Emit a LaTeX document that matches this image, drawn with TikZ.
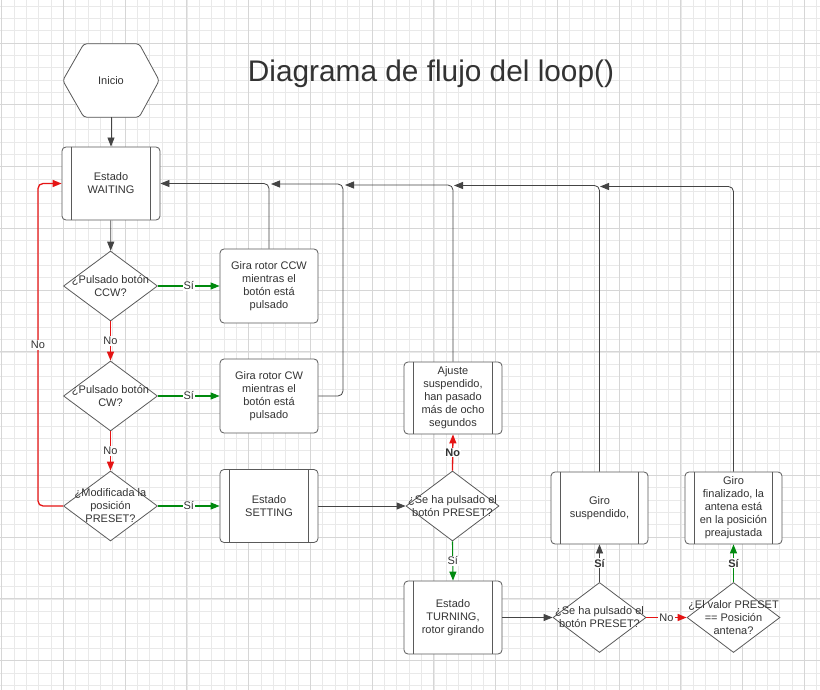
\documentclass[tikz,border=0pt]{standalone}
\usepackage{fontspec}
\setmainfont{Liberation Sans}
\usetikzlibrary{arrows.meta,shapes.geometric,calc}
\definecolor{ink}{HTML}{333333}
\definecolor{edgec}{HTML}{5A5A5A}
\definecolor{linec}{HTML}{444444}
\definecolor{gmin}{HTML}{E9E9E9}
\definecolor{gmaj}{HTML}{D6D6D6}
\definecolor{okg}{HTML}{008A0E}
\definecolor{nor}{HTML}{E51414}
\begin{document}
\begin{tikzpicture}[x=1pt,y=-1pt,
  txt/.style={text=ink,font=\fontsize{11}{13}\selectfont,align=center,inner sep=0pt},
  lab/.style={txt,fill=white,inner sep=1pt},
  labb/.style={lab,font=\fontsize{11}{13}\selectfont\bfseries},
  box/.style={txt,draw=edgec,line width=0.8pt,rounded corners=4pt,fill=white,minimum width=98pt,minimum height=73pt},
  dia/.style={draw=edgec,line width=0.8pt,diamond,fill=white,minimum width=94pt,minimum height=70pt,inner sep=0pt},
  side/.style={draw=edgec,line width=0.8pt},
  darr/.style={draw=linec,line width=0.8pt,-{Triangle[length=9pt,width=7pt]}},
  garr/.style={draw=okg,line width=1.1pt,-{Triangle[length=9pt,width=7pt]}},
  rarr/.style={draw=nor,line width=1.3pt,-{Triangle[length=9pt,width=7pt]}},
  gridmin/.style={draw=gmin,line width=0.5pt},
  gridmaj/.style={draw=gmaj,line width=0.6pt}
]
\useasboundingbox (0,0) rectangle (820,690);
\fill[white] (0,0) rectangle (820,690);
% background grid
\foreach \i in {0,...,66} {\draw[gridmin] ({1.5+\i*12.35},0) -- ({1.5+\i*12.35},690);}
\foreach \i in {0,...,56} {\draw[gridmin] (0,{5.95+\i*12.35}) -- (820,{5.95+\i*12.35});}
\foreach \i in {0,...,13} {\draw[gridmaj] ({1.5+\i*61.75},0) -- ({1.5+\i*61.75},690);}
\foreach \i in {1,...,12} {\draw[gridmaj] (0,{-18.75+\i*61.75}) -- (820,{-18.75+\i*61.75});}

% title
\node[anchor=base,text=ink,font=\fontsize{29.8}{36}\selectfont,inner sep=0pt] (title) at (431,82) {Diagrama de flujo del loop()};

% start
\node[txt,minimum width=96pt,minimum height=73pt] (ini) at (111,80.5) {};
\draw[side,fill=white,rounded corners=3pt] (ini.west) -- ($(ini.north west)+(21,0)$) -- ($(ini.north east)+(-20,0)$) -- (ini.east) -- ($(ini.south east)+(-20,0)$) -- ($(ini.south west)+(21,0)$) -- cycle;
\node[txt] (init) at (ini) {Inicio};

% left column
\node[box] (wait) at (111,183.5) {Estado\\WAITING};
\node[dia] (d1) at (110.5,286) {};
\node[txt] (d1t) at (d1) {¿Pulsado botón\\CCW?};
\node[dia] (d2) at (110.5,396) {};
\node[txt] (d2t) at (d2) {¿Pulsado botón\\CW?};
\node[dia] (d3) at (110.5,506) {};
\node[txt] (d3t) at (d3) {¿Modificada la\\posición\\PRESET?};

% second column
\node[box,minimum height=74pt] (ccw) at (269,286) {Gira rotor CCW\\mientras el\\botón está\\pulsado};
\node[box,minimum height=74pt] (cw) at (269,396) {Gira rotor CW\\mientras el\\botón está\\pulsado};
\node[box] (set) at (269,506) {Estado\\SETTING};

% third column
\node[box,minimum height=72pt] (aj) at (453,398) {Ajuste\\suspendido,\\han pasado\\más de ocho\\segundos};
\node[dia,minimum width=93pt] (d4) at (452.5,506) {};
\node[txt] (d4t) at (d4) {¿Se ha pulsado el\\botón PRESET?};
\node[box] (turn) at (453,617.5) {Estado\\TURNING,\\rotor girando};

% fourth column
\node[box,minimum width=97pt,minimum height=72pt] (gs) at (599.5,508) {Giro\\suspendido,};
\node[dia,minimum width=93pt] (d5) at (599.5,617.5) {};
\node[txt] (d5t) at (d5) {¿Se ha pulsado el\\botón PRESET?};

% fifth column
\node[box,minimum width=97pt,minimum height=72pt] (gf) at (733.5,508) {Giro\\finalizado, la\\antena está\\en la posición\\preajustada};
\node[dia,minimum width=93pt] (d6) at (733.5,617.5) {};
\node[txt] (d6t) at (d6) {¿El valor PRESET\\== Posición\\antena?};

% process-box side lines
\foreach \n in {wait,set,aj,turn,gs,gf} {
  \draw[side] ([xshift=10pt]\n.north west) -- ([xshift=10pt]\n.south west);
  \draw[side] ([xshift=-10pt]\n.north east) -- ([xshift=-10pt]\n.south east);
}

% coordinates for merging return lines
\coordinate (c0) at (38,183.5);
\coordinate (c1) at (343,184);
\coordinate (m1) at (271,184);
\coordinate (m2) at (345,185);
\coordinate (m3) at (454,185.5);
\coordinate (m4) at (600,186.5);

% connectors
\draw[darr] (ini) -- (wait);
\draw[darr] (wait) -- (d1);
\draw[garr] (d1.east) -- node[lab] (s1) {Sí} (ccw.west);
\draw[garr] (d2.east) -- node[lab] (s2) {Sí} (cw.west);
\draw[garr] (d3.east) -- node[lab] (s3) {Sí} (set.west);
\draw[rarr] (d1.south) -- node[lab] (n1) {No} (d2.north);
\draw[rarr] (d2.south) -- node[lab] (n2) {No} (d3.north);
\draw[rarr,rounded corners=5pt] (d3.west) -| (c0) -- (wait.west);
\node[lab] (n0) at (38,345) {No};

\draw[darr,rounded corners=5pt] (ccw.north) |- (wait.east);
\draw[darr,rounded corners=5pt] (cw.east) -| (c1) -- (m1);
\draw[darr,rounded corners=5pt] (aj.north) |- (m2);
\draw[darr,rounded corners=5pt] (gs.north) |- (m3);
\draw[darr,rounded corners=5pt] (gf.north) |- (m4);

\draw[darr] (set.east) -- (d4.west);
\draw[rarr] (d4.north) -- node[labb] (n4) {No} (aj.south);
\draw[garr] (d4.south) -- node[lab] (s4) {Sí} (turn.north);
\draw[darr] (turn.east) -- (d5.west);
\draw[darr] (d5.north) -- node[labb] (s5) {Sí} (gs.south);
\draw[rarr] (d5.east) -- node[lab] (n5) {No} (d6.west);
\draw[garr] (d6.north) -- node[labb] (s6) {Sí} (gf.south);
\end{tikzpicture}
\end{document}
